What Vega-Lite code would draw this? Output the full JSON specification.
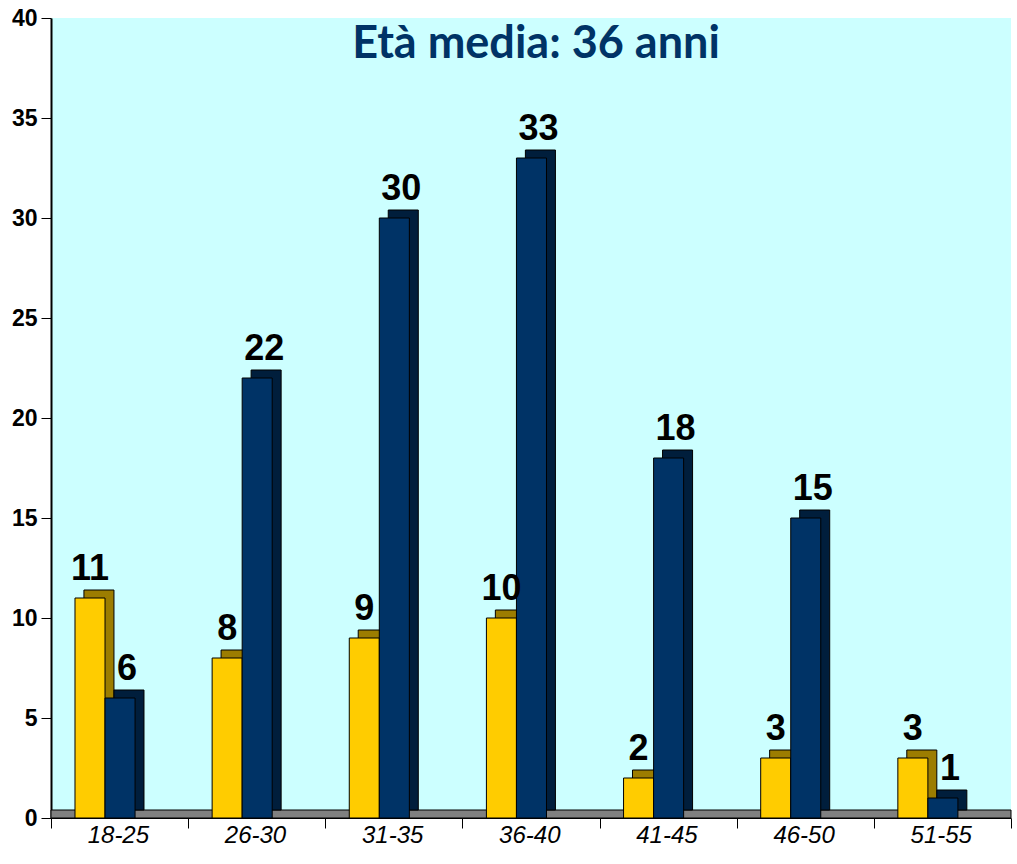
{
  "$schema": "https://vega.github.io/schema/vega-lite/v6.json",
  "width": 960,
  "height": 800,
  "autosize": {"type": "none"},
  "padding": {"left": 51, "top": 18, "right": 6, "bottom": 46},
  "background": "white",
  "config": {"view": {"fill": "#CCFFFF", "stroke": null}, "font": "Liberation Sans"},
  "title": {"text": "Età media: 36 anni", "font": "Lato", "fontSize": 45, "fontWeight": "bold", "color": "#003366", "anchor": "middle", "frame": "group", "offset": -96, "baseline": "alphabetic", "dx": 5},
  "data": {"values": [
    {"age": "18-25", "s": "a", "v": 11}, {"age": "18-25", "s": "b", "v": 6},
    {"age": "26-30", "s": "a", "v": 8}, {"age": "26-30", "s": "b", "v": 22},
    {"age": "31-35", "s": "a", "v": 9}, {"age": "31-35", "s": "b", "v": 30},
    {"age": "36-40", "s": "a", "v": 10}, {"age": "36-40", "s": "b", "v": 33},
    {"age": "41-45", "s": "a", "v": 2}, {"age": "41-45", "s": "b", "v": 18},
    {"age": "46-50", "s": "a", "v": 3}, {"age": "46-50", "s": "b", "v": 15},
    {"age": "51-55", "s": "a", "v": 3}, {"age": "51-55", "s": "b", "v": 1}
  ]},
  "resolve": {"scale": {"xOffset": "independent"}},
  "layer": [
    {
      "data": {"values": [{"f": 0}]},
      "mark": {"type": "rect", "fill": "#808080", "stroke": "black", "strokeWidth": 1},
      "encoding": {
        "y": {"datum": 0, "type": "quantitative", "scale": {"domain": [0, 40]}},
        "y2": {"datum": 0.4}
      }
    },
    {
      "mark": {"type": "bar", "yOffset": -8, "y2Offset": -8, "stroke": "black", "strokeWidth": 1},
      "encoding": {
        "x": {"field": "age", "type": "nominal", "sort": null, "scale": {"paddingInner": 0, "paddingOuter": 0}},
        "xOffset": {"field": "s", "type": "nominal", "scale": {"type": "band", "domain": ["a", "b", "c"], "paddingInner": 0, "paddingOuter": 0.783, "align": 0.7}},
        "y": {"field": "v", "type": "quantitative"},
        "color": {"condition": {"test": "datum.s === 'a'", "value": "#9C7D00"}, "value": "#001E3C"}
      }
    },
    {
      "mark": {"type": "bar", "stroke": "black", "strokeWidth": 1},
      "encoding": {
        "x": {"field": "age", "type": "nominal", "sort": null, "scale": {"paddingInner": 0, "paddingOuter": 0},
          "axis": {"title": null, "labelAngle": 0, "labelFontSize": 24, "labelFontStyle": "italic", "labelColor": "black", "labelPadding": 7, "labelOffset": 29, "tickBand": "extent", "tickSize": 10, "tickColor": "black", "domainColor": "black", "domainWidth": 1}},
        "xOffset": {"field": "s", "type": "nominal", "scale": {"type": "band", "domain": ["a", "b", "c"], "paddingInner": 0, "paddingOuter": 0.783, "align": 0.51}},
        "y": {"field": "v", "type": "quantitative", "scale": {"domain": [0, 40]},
          "axis": {"title": null, "values": [0, 5, 10, 15, 20, 25, 30, 35, 40], "grid": false, "labelFontSize": 23, "labelFontWeight": "bold", "labelColor": "black", "labelPadding": 4, "tickSize": 10, "tickColor": "black", "domainColor": "black", "domainWidth": 2}},
        "color": {"condition": {"test": "datum.s === 'a'", "value": "#FFCC00"}, "value": "#003366"}
      }
    },
    {
      "transform": [{"filter": "datum.s === 'a'"}],
      "mark": {"type": "text", "baseline": "alphabetic", "dy": -18, "dx": 0, "fontSize": 36, "fontWeight": "bold", "color": "black"},
      "encoding": {
        "x": {"field": "age", "type": "nominal", "sort": null},
        "xOffset": {"field": "s", "type": "nominal", "scale": {"type": "band", "domain": ["a", "b", "c"], "paddingInner": 0, "paddingOuter": 0.783, "align": 0.51}},
        "y": {"field": "v", "type": "quantitative"},
        "text": {"field": "v", "type": "quantitative"}
      }
    },
    {
      "transform": [{"filter": "datum.s === 'b'"}],
      "mark": {"type": "text", "baseline": "alphabetic", "dy": -18, "dx": 7, "fontSize": 36, "fontWeight": "bold", "color": "black"},
      "encoding": {
        "x": {"field": "age", "type": "nominal", "sort": null},
        "xOffset": {"field": "s", "type": "nominal", "scale": {"type": "band", "domain": ["a", "b", "c"], "paddingInner": 0, "paddingOuter": 0.783, "align": 0.51}},
        "y": {"field": "v", "type": "quantitative"},
        "text": {"field": "v", "type": "quantitative"}
      }
    }
  ]
}
